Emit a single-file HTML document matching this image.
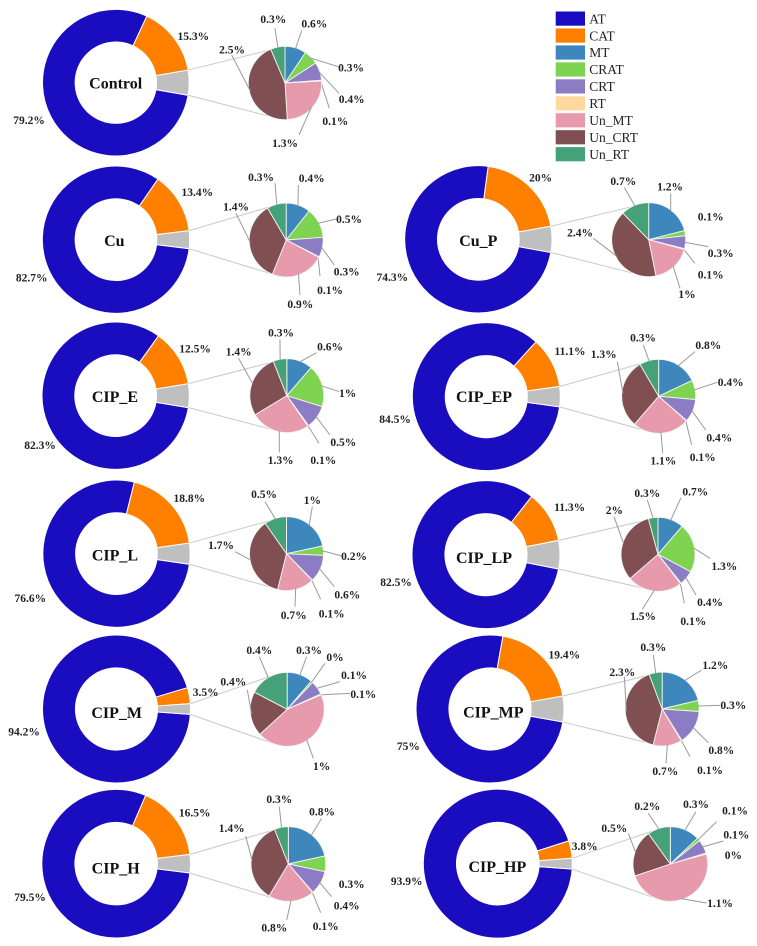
<!DOCTYPE html>
<html lang="en">
<head>
<meta charset="utf-8">
<title>Composition pie-of-pie charts</title>
<style>
html,body{margin:0;padding:0;background:#fff;}
body{width:757px;height:946px;overflow:hidden;}
svg{display:block;}
text{font-family:"Liberation Serif",serif;fill:#222;}
.val{font-size:11.5px;font-weight:bold;text-anchor:middle;}
.ttl{font-size:16px;font-weight:bold;text-anchor:middle;fill:#111;}
.leg{font-size:13.5px;}
</style>
</head>
<body>
<svg id="chart" xmlns="http://www.w3.org/2000/svg" width="757" height="946" viewBox="0 0 757 946"></svg>
<script>
/* ---- data ---- */
const panelNames = ['Control','Cu','Cu_P','CIP_E','CIP_L','CIP_EP','CIP_LP','CIP_M','CIP_H','CIP_MP','CIP_HP'];
const seriesNames = ['AT','CAT','MT','CRAT','CRT','RT','Un_MT','Un_CRT','Un_RT'];
const atValues    = [79.2,82.7,74.3,82.3,76.6,84.5,82.5,94.2,79.5,75,93.9];
const catValues   = [15.3,13.4,20,12.5,18.8,11.1,11.3,3.5,16.5,19.4,3.8];
const mtValues    = [0.52,0.42,1.2,0.59,1.0,0.79,0.70,0.26,0.86,1.19,0.30];
const cratValues  = [0.35,0.52,0.13,0.96,0.19,0.37,1.33,0.02,0.27,0.27,0.03];
const crtValues   = [0.44,0.34,0.32,0.53,0.55,0.44,0.40,0.14,0.41,0.84,0.14];
const rtValues    = [0.02,0.01,0.02,0.02,0.01,0.01,0.02,0.01,0.01,0.02,0.01];
const unMtValues  = [1.37,0.92,1.0,1.35,0.74,1.09,1.49,1.03,0.79,0.70,1.14];
const unCrtValues = [2.46,1.4,2.33,1.44,1.68,1.33,1.99,0.45,1.41,2.26,0.47];
const unRtValues  = [0.35,0.33,0.70,0.31,0.45,0.37,0.26,0.40,0.24,0.32,0.23];
const printedLabels = [
  ['0.6%','0.3%','0.4%','0.1%','1.3%','2.5%','0.3%'],
  ['0.4%','0.5%','0.3%','0.1%','0.9%','1.4%','0.3%'],
  ['1.2%','0.1%','0.3%','0.1%','1%','2.4%','0.7%'],
  ['0.6%','1%','0.5%','0.1%','1.3%','1.4%','0.3%'],
  ['1%','0.2%','0.6%','0.1%','0.7%','1.7%','0.5%'],
  ['0.8%','0.4%','0.4%','0.1%','1.1%','1.3%','0.3%'],
  ['0.7%','1.3%','0.4%','0.1%','1.5%','2%','0.3%'],
  ['0.3%','0%','0.1%','0.1%','1%','0.4%','0.4%'],
  ['0.8%','0.3%','0.4%','0.1%','0.8%','1.4%','0.3%'],
  ['1.2%','0.3%','0.8%','0.1%','0.7%','2.3%','0.3%'],
  ['0.3%','0.1%','0.1%','0%','1.1%','0.5%','0.2%']
];

/* ---- styling ---- */
const seriesColors = ['#1a0dbf','#ff8000','#3d87bd','#7ed350','#8c7cc3','#ffd8a0','#e79aac','#7f4f52','#45a177'];
const remainderColor = '#bfbfbf';

/* ---- layout (measured in 3x crop units, converted by toPx) ---- */
const panelLayouts = [
 {ox:0,oy:0,c:[347.5,248,220],p:[855,249,110],title:[347,250],at:[87,360],cat:[580,108],
  labels:[[943,71,905,92],[1053,203,1015,200],[1055,297,1017,280],[1006,363,988,325],[855,429,897,405],[696,149,695,165],[820,58,825,85]]},
 {ox:0,oy:0,c:[348,719,221],p:[858.5,720,111],title:[343,722],at:[95,833],cat:[592,576],
  labels:[[935,535,895,555],[1047,657,1010,657],[1040,815,1003,795],[990,870,960,828],[901,912,900,885],[708,620,708,640],[783,532,825,550]]},
 {ox:380,oy:0,c:[295,718,221],p:[806,719,111],title:[295,722],at:[37,832],cat:[482,533],
  labels:[[870,560,872,580],[992,650],[1022,760,985,740],[992,824,945,790],[921,883,900,865],[600,698,640,715],[730,543,733,563]]},
 {ox:0,oy:320,c:[347,227,221],p:[860.5,227,111],title:[345,230],at:[120,376],cat:[585,86],
  labels:[[990,80,950,98],[1043,220,1018,215],[1030,366,990,345],[970,420,957,370],[842,421,838,397],[716,95,716,115],[843,38,840,58]]},
 {ox:0,oy:320,c:[349.5,701,221],p:[859.5,701,111],title:[345,705],at:[91,835],cat:[568,534],
  labels:[[937,540,937,560],[1062,708,1025,708],[1042,824,1003,800],[995,881,962,838],[881,886,885,860],[663,676,705,695],[792,523,795,545]]},
 {ox:380,oy:320,c:[319,230,222],p:[836,229,111],title:[312,230],at:[45,298],cat:[570,94],
  labels:[[985,75,945,95],[1052,187,1012,187],[1018,353,977,330],[968,411,935,375],[850,422,848,400],[671,103,712,125],[789,53,790,75]]},
 {ox:380,oy:320,c:[318,704,222],p:[834,703,111],title:[312,713],at:[48,787],cat:[569,561],
  labels:[[946,515,903,533],[1033,739,990,715],[990,846,948,825],[940,904,913,850],[789,889,787,868],[703,570,702,590],[802,519,802,540]]},
 {ox:0,oy:630,c:[349.5,237,222],p:[861.5,238,111],title:[350,248],at:[72,305],cat:[617,186],
  labels:[[927,60,920,80],[1005,82,975,100],[1062,136,1020,155],[1090,193,1050,190],[965,408,940,385],[700,155,742,180],[778,60,778,80]]},
 {ox:0,oy:630,c:[348.5,701,223],p:[865,702,112],title:[347,715],at:[90,802],cat:[584,548],
  labels:[[966,545,965,565],[1055,763],[1040,827,995,800],[977,888,962,848],[823,893,860,870],[695,594,737,618],[838,508,838,530]]},
 {ox:380,oy:630,c:[330,237,222],p:[846.5,237,111],title:[340,247],at:[85,349],cat:[553,74],
  labels:[[1006,105,965,120],[1060,226,1020,226],[1024,361,985,338],[990,421,930,380],[856,424,858,400],[727,126,733,140],[820,52,820,75]]},
 {ox:380,oy:630,c:[353.5,701,223.5],p:[871,702,112],title:[352,710],at:[80,753],cat:[614,649],
  labels:[[948,522,948,545],[1065,542,1010,575],[1069,614,1030,633],[1060,676],[1020,819,980,819],[703,594,745,610],[802,529,805,550]]}
];

const INNER_RATIO = 0.555;
const CONNECT_TOP_DEG = -117;
const CONNECT_BOTTOM_DEG = 115;

const svg = document.getElementById('chart');
const NS = 'http://www.w3.org/2000/svg';
function make(tag, parent){
  const el = document.createElementNS(NS, tag);
  parent.appendChild(el);
  return el;
}
function polar(cx, cy, r, deg){
  const a = deg * Math.PI / 180;
  return [cx + r * Math.cos(a), cy + r * Math.sin(a)];
}
function fmt(v){
  return (Math.round(v * 10) / 10) + '%';
}
function ringPath(cx, cy, r, r0, a0, a1){
  const large = (a1 - a0) > 180 ? 1 : 0;
  const p0 = polar(cx, cy, r, a0), p1 = polar(cx, cy, r, a1);
  const q1 = polar(cx, cy, r0, a1), q0 = polar(cx, cy, r0, a0);
  return 'M' + p0[0] + ' ' + p0[1] + 'A' + r + ' ' + r + ' 0 ' + large + ' 1 ' + p1[0] + ' ' + p1[1] +
         'L' + q1[0] + ' ' + q1[1] + 'A' + r0 + ' ' + r0 + ' 0 ' + large + ' 0 ' + q0[0] + ' ' + q0[1] + 'Z';
}
function piePath(cx, cy, r, a0, a1){
  const large = (a1 - a0) > 180 ? 1 : 0;
  const p0 = polar(cx, cy, r, a0), p1 = polar(cx, cy, r, a1);
  return 'M' + cx + ' ' + cy + 'L' + p0[0] + ' ' + p0[1] + 'A' + r + ' ' + r + ' 0 ' + large + ' 1 ' + p1[0] + ' ' + p1[1] + 'Z';
}

panelNames.forEach(function(name, i){
  const L = panelLayouts[i];
  const X = function(v){ return L.ox + v / 3; };
  const Y = function(v){ return L.oy + v / 3; };
  const slug = name.toLowerCase().replace('_', '-');

  const g = make('g', svg);
  
  

  /* donut */
  const cx = X(L.c[0]), cy = Y(L.c[1]), R = L.c[2] / 3, r0 = R * INNER_RATIO;
  const at = atValues[i], cat = catValues[i];
  const rest = Math.max(0, 100 - at - cat);
  const total = at + cat + rest;
  const unit = 360 / total;
  const gapHalf = rest * unit / 2;
  const aAt0 = gapHalf, aAt1 = aAt0 + at * unit, aCat1 = aAt1 + cat * unit, aRest1 = aCat1 + rest * unit;

  const sAt = make('path', g);
  sAt.setAttribute('d', ringPath(cx, cy, R, r0, aAt0, aAt1));
  sAt.setAttribute('fill', seriesColors[0]);
  sAt.setAttribute('stroke', '#fff');
  
  

  const sCat = make('path', g);
  sCat.setAttribute('d', ringPath(cx, cy, R, r0, aAt1, aCat1));
  sCat.setAttribute('fill', seriesColors[1]);
  sCat.setAttribute('stroke', '#fff');
  
  

  const sRest = make('path', g);
  sRest.setAttribute('d', ringPath(cx, cy, R, r0, aCat1, aRest1));
  sRest.setAttribute('fill', remainderColor);
  sRest.setAttribute('stroke', '#fff');
  
  

  /* pie */
  const px = X(L.p[0]), py = Y(L.p[1]), pr = L.p[2] / 3;

  /* connectors from the remainder slice to the pie */
  const topStart = polar(cx, cy, R, aCat1);
  const botStart = polar(cx, cy, R, aAt0);
  const topEnd = polar(px, py, pr, CONNECT_TOP_DEG);
  const botEnd = polar(px, py, pr, CONNECT_BOTTOM_DEG);

  const conn1 = make('line', g);
  conn1.setAttribute('x1', topStart[0]);
  conn1.setAttribute('y1', topStart[1]);
  conn1.setAttribute('x2', topEnd[0]);
  conn1.setAttribute('y2', topEnd[1]);
  conn1.setAttribute('stroke', '#c9c9c9');
  conn1.setAttribute('stroke-width', '1');
  
  

  const conn2 = make('line', g);
  conn2.setAttribute('x1', botStart[0]);
  conn2.setAttribute('y1', botStart[1]);
  conn2.setAttribute('x2', botEnd[0]);
  conn2.setAttribute('y2', botEnd[1]);
  conn2.setAttribute('stroke', '#c9c9c9');
  conn2.setAttribute('stroke-width', '1');
  
  

  const subValues = [mtValues[i], cratValues[i], crtValues[i], rtValues[i], unMtValues[i], unCrtValues[i], unRtValues[i]];
  const subTotal = subValues.reduce(function(a, b){ return a + b; }, 0);
  let angle = -90;
  subValues.forEach(function(v, k){
    const sweep = v / subTotal * 360;
    const a0 = angle, a1 = angle + sweep;
    angle = a1;
    const seriesKey = seriesNames[k + 2].toLowerCase().replace('_', '-');

    const wedge = make('path', g);
    wedge.setAttribute('d', piePath(px, py, pr, a0, a1));
    wedge.setAttribute('fill', seriesColors[k + 2]);
    wedge.setAttribute('stroke', '#f4f4f4');
    wedge.setAttribute('stroke-width', '0.9');
    
    

    const spec = L.labels[k];
    if (spec.length > 2) {
      const rim = polar(px, py, pr * 0.97, (a0 + a1) / 2);
      const leader = make('line', g);
      leader.setAttribute('x1', rim[0]);
      leader.setAttribute('y1', rim[1]);
      leader.setAttribute('x2', X(spec[2]));
      leader.setAttribute('y2', Y(spec[3]));
      leader.setAttribute('stroke', '#9a9a9a');
      leader.setAttribute('stroke-width', '1');
      
      
    }
    const lab = make('text', g);
    lab.setAttribute('class', 'val');
    lab.setAttribute('x', X(spec[0]));
    lab.setAttribute('y', Y(spec[1]) + 3.8);
    lab.textContent = printedLabels[i][k];
    
    
  });

  /* donut labels */
  const tAt = make('text', g);
  tAt.setAttribute('class', 'val');
  tAt.setAttribute('x', X(L.at[0]));
  tAt.setAttribute('y', Y(L.at[1]) + 3.8);
  tAt.textContent = fmt(at);
  
  

  const tCat = make('text', g);
  tCat.setAttribute('class', 'val');
  tCat.setAttribute('x', X(L.cat[0]));
  tCat.setAttribute('y', Y(L.cat[1]) + 3.8);
  tCat.textContent = fmt(cat);
  
  

  const title = make('text', g);
  title.setAttribute('class', 'ttl');
  title.setAttribute('x', X(L.title[0]));
  title.setAttribute('y', Y(L.title[1]) + 5.3);
  title.textContent = name;
  
  
});

/* legend */
const legend = make('g', svg);


seriesNames.forEach(function(name, i){
  const entry = make('g', legend);
  
  

  const sw = make('rect', entry);
  sw.setAttribute('x', 555.7);
  sw.setAttribute('y', 11.5 + i * 16.95);
  sw.setAttribute('width', 29.3);
  sw.setAttribute('height', 14.2);
  sw.setAttribute('fill', seriesColors[i]);
  
  

  const tx = make('text', entry);
  tx.setAttribute('class', 'leg');
  tx.setAttribute('x', 589.3);
  tx.setAttribute('y', 23.3 + i * 16.95);
  tx.textContent = name;
  
  
});
</script>
</body>
</html>
